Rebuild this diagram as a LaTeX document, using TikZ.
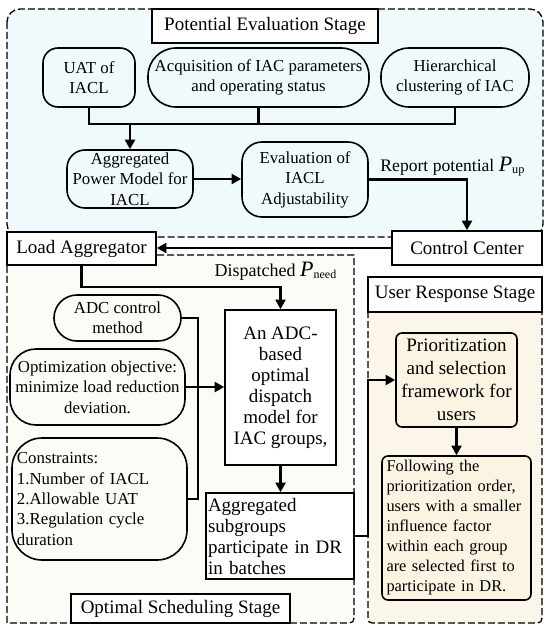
\documentclass[tikz,border=0pt]{standalone}
\usepackage{fontspec}
\setmainfont{Liberation Serif}
\usetikzlibrary{arrows.meta, calc}
\definecolor{evalblue}{RGB}{240,249,252}
\definecolor{schedcream}{RGB}{253,251,246}
\definecolor{respcream}{RGB}{251,246,233}
\definecolor{boxcream}{RGB}{251,244,226}
\newcommand{\bigtxt}{\fontsize{9.5}{10.5}\selectfont}
\newcommand{\smalltxt}{\fontsize{8.4}{10.2}\selectfont}
\newcommand{\pvar}[1]{{\fontsize{11}{11}\selectfont\textit{P}}\textsubscript{#1}}

\begin{document}
\begin{tikzpicture}[x=0.5pt, y=-0.5pt, >={Triangle[length=4.8pt,width=5pt]},
    region/.style={draw, dash pattern=on 3.5pt off 1.5pt, line width=0.65pt},
    stagebox/.style={draw, fill=white, line width=0.8pt, inner sep=0pt, font=\bigtxt},
    roundbox/.style={draw, line width=0.8pt, inner sep=0pt, align=center, font=\smalltxt},
    plainbox/.style={draw, fill=white, line width=0.8pt, inner sep=0pt, align=center, font=\bigtxt},
    link/.style={line width=1.1pt}]
                \useasboundingbox (0,0) rectangle (550,631);

                % Stage regions
                \draw[region, fill=evalblue, rounded corners=6.5pt] (7,9) rectangle (543,237);
                \draw[region, fill=schedcream] (7,255) -- (354,255) -- (354,613) .. controls (354,623) .. (344,623) -- (7,623) -- cycle;
                \draw[region, fill=respcream] (368,312) -- (542,312) -- (542,613) .. controls (542,623) .. (532,623) -- (377,623) .. controls (368,623) .. (368,614) -- cycle;

                % Potential evaluation
                \node[stagebox, minimum width=113pt, minimum height=17pt] (evalstage) at (265,26) {Potential Evaluation Stage};
                \node[roundbox, rounded corners=7.5pt, minimum width=46pt, minimum height=29.5pt] (uat) at (89,77.5) {UAT of\\IACL};
                \node[roundbox, rounded corners=14pt, minimum width=110.5pt, minimum height=29.5pt] (acq) at (258.5,77.5) {Acquisition of IAC parameters\\and operating status};
                \node[roundbox, rounded corners=14pt, minimum width=74pt, minimum height=29.5pt] (hier) at (455,77.5) {Hierarchical\\clustering of IAC};
                \node[roundbox, rounded corners=9pt, minimum width=63pt, minimum height=29pt] (aggpow) at (130,179) {Aggregated\\Power Model for\\IACL};
                \node[roundbox, rounded corners=10pt, minimum width=63pt, minimum height=37.5pt] (adjust) at (305,179.5) {Evaluation of\\IACL\\Adjustability};

                % Bus to power model
                \coordinate (busy) at (0,124);
                \draw[link] (uat.south) -- (uat.south |- busy) -- (hier.south |- busy) -- (hier.south);
                \draw[link] (acq.south) -- (acq.south |- busy);
                \draw[link, ->] (aggpow.north |- busy) -- (aggpow.north);
                \draw[link, ->] (aggpow.east) -- (aggpow.east -| adjust.west);

                % Aggregator and control center
                \node[plainbox, minimum width=74.5pt, minimum height=16.5pt] (aggr) at (81.5,248.5) {Load Aggregator};
                \node[plainbox, minimum width=75pt, minimum height=17pt] (ctrl) at (467,248) {Control Center};
                \draw[link, ->] (adjust.east) -- (adjust.east -| ctrl.north) -- (ctrl.north);
                \node[font=\fontsize{8.8}{10}\selectfont] (reportlbl) at (453,167) {Report potential \pvar{up}};
                \draw[link, ->] (ctrl.west) -- (ctrl.west -| aggr.east);

                % Optimal scheduling
                \node[plainbox, minimum width=55.5pt, minimum height=77.5pt] (adcmodel) at (280.5,387.5) {An ADC-\\based\\optimal\\dispatch\\model for\\IAC groups,};
                \coordinate (dispy) at (0,287);
                \draw[link, ->] (aggr.south) -- (aggr.south |- dispy) -- (adcmodel.north |- dispy) -- (adcmodel.north);
                \node[font=\fontsize{9}{10}\selectfont] (displbl) at (276,271) {Dispatched \pvar{need}};
                \node[roundbox, rounded corners=11.5pt, minimum width=63.5pt, minimum height=23pt] (adcctrl) at (117.5,318) {ADC control\\method};
                \node[roundbox, rounded corners=13pt, minimum width=87.5pt, minimum height=38pt] (optobj) at (97.5,387) {Optimization objective:\\minimize load reduction\\deviation.};
                \node[roundbox, rounded corners=15pt, align=left, text width=82.5pt, inner xsep=2.5pt, minimum height=61pt] (constr) at (99.5,499) {Constraints:\\1.Number of IACL\\2.Allowable UAT\\3.Regulation cycle\\duration};
                \coordinate (busx) at (198,0);
                \draw[link] (adcctrl.east) -- (adcctrl.east -| busx) -- (constr.east -| busx) -- (constr.east);
                \draw[link, ->] (optobj.east) -- (optobj.east -| adcmodel.west);
                \node[plainbox, align=left, text width=72pt, inner xsep=1pt, minimum height=43pt] (subgrp) at (280,536) {Aggregated\\subgroups\\participate in DR\\in batches};
                \draw[link, ->] (adcmodel.south) -- (adcmodel.south |- subgrp.north);
                \node[stagebox, minimum width=109.5pt, minimum height=14.5pt] (schedstage) at (180.5,608.5) {Optimal Scheduling Stage};

                % User response
                \node[stagebox, minimum width=87pt, minimum height=17.5pt] (respstage) at (455,294.5) {User Response Stage};
                \node[plainbox, fill=boxcream, rounded corners=3pt, minimum width=60.5pt, minimum height=47pt, font=\fontsize{9.5}{11.5}\selectfont] (prior) at (456.5,380) {Prioritization\\and selection\\framework for\\users};
                \node[roundbox, fill=boxcream, rounded corners=3pt, align=left, text width=70pt, inner xsep=2.25pt, minimum height=72pt, font=\fontsize{8.2}{10}\selectfont] (follow) at (456.5,528) {Following the\\prioritization order,\\users with a smaller\\influence factor\\within each group\\are selected first to\\participate in DR.};
                \coordinate (linkx) at (368,0);
                \draw[link, ->] (subgrp.east) -- (subgrp.east -| linkx) -- (linkx |- prior.west) -- (prior.west);
                \draw[link, ->] (prior.south) -- (prior.south |- follow.north);
            \end{tikzpicture}
\end{document}
